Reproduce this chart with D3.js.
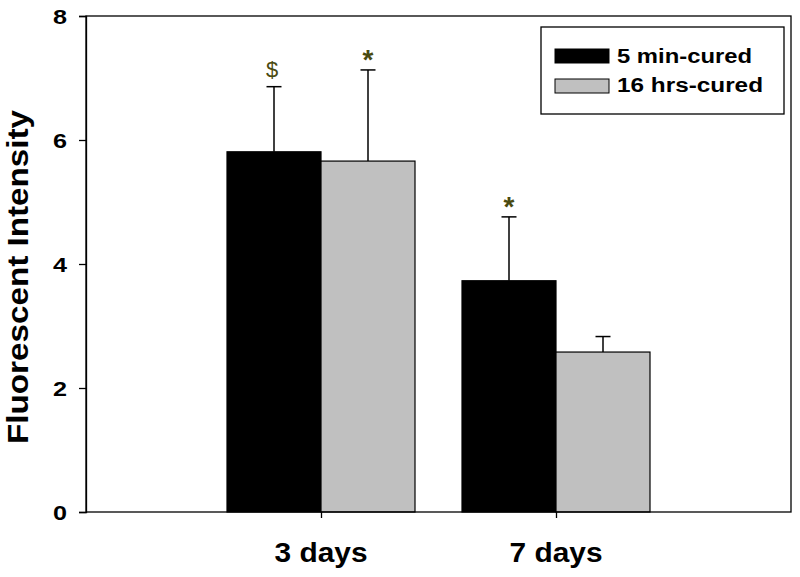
<!DOCTYPE html>
<html>
<head>
<meta charset="utf-8">
<script src="https://cdn.jsdelivr.net/npm/d3@7"></script>
<style>
html,body{margin:0;padding:0;background:#fff;}
text{font-family:Arial,"Liberation Sans",sans-serif;}
</style>
</head>
<body>
<svg id="chart" width="800" height="577"></svg>
<script>
const categories = ["3 days", "7 days"];
const seriesNames = ["5 min-cured", "16 hrs-cured"];
const means5 = [5.81, 3.73];
const errs5 = [1.05, 1.03];
const means16 = [5.66, 2.58];
const errs16 = [1.47, 0.25];
const marks5 = ["$", "*"];
const marks16 = ["*", ""];
const yTicks = [0, 2, 4, 6, 8];
const seriesColors = ["#000000", "#c0c0c0"];

const svg = d3.select("#chart");
const L = 86, R = 791, T = 16, B = 512;

const x = d3.scalePoint().domain(categories).range([L, R]).padding(1);
const y = d3.scaleLinear().domain([0, 8]).range([B, T]);
const barW = x.step() * 0.4;

const data = [];
categories.forEach((c, i) => {
  data.push({cat: c, s: 0, v: means5[i], e: errs5[i], m: marks5[i]});
  data.push({cat: c, s: 1, v: means16[i], e: errs16[i], m: marks16[i]});
});
const bx = d => x(d.cat) + (d.s === 0 ? -barW : 0);

// bars
svg.append("g").selectAll("rect").data(data).join("rect")
  .attr("x", bx).attr("width", barW)
  .attr("y", d => y(d.v)).attr("height", d => y(0) - y(d.v))
  .attr("fill", d => seriesColors[d.s]).attr("stroke", "#000").attr("stroke-width", 1.2);

// error bars (upward only)
const eg = svg.append("g").attr("stroke", "#000").attr("stroke-width", 1.5);
data.forEach(d => {
  const cx = bx(d) + barW / 2;
  eg.append("line").attr("x1", cx).attr("x2", cx).attr("y1", y(d.v)).attr("y2", y(d.v + d.e));
  eg.append("line").attr("x1", cx - 7.5).attr("x2", cx + 7.5).attr("y1", y(d.v + d.e)).attr("y2", y(d.v + d.e));
});

// significance marks
data.filter(d => d.m).forEach(d => {
  const cx = bx(d) + barW / 2;
  const cy = y(d.v + d.e) - 17;
  if (d.m === "$") {
    svg.append("text").attr("x", cx - 2).attr("y", cy + 7).attr("text-anchor", "middle")
      .attr("font-size", 22).attr("fill", "#4a4a10").text("$");
  } else {
    svg.append("text").attr("x", cx).attr("y", cy + 16).attr("text-anchor", "middle")
      .attr("font-size", 28).attr("font-weight", "bold").attr("fill", "#4a4a10").text("*");
  }
});

// frame
svg.append("rect").attr("x", L).attr("y", T).attr("width", R - L).attr("height", B - T)
  .attr("fill", "none").attr("stroke", "#000").attr("stroke-width", 1.3);

// y axis
const yAxis = d3.axisLeft(y).tickValues(yTicks).tickSize(7).tickFormat(d3.format("d"));
const ya = svg.append("g").attr("transform", `translate(${L},0)`).call(yAxis);
ya.attr("font-size", null).attr("font-family", null);
ya.select(".domain").attr("stroke-width", 1.3);
ya.selectAll(".tick line").attr("stroke-width", 1.3);
ya.selectAll(".tick text").attr("x", -19).attr("dy", "0.36em").attr("font-size", 20).attr("font-weight", "bold")
  .attr("fill", "#000").attr("textLength", 14).attr("lengthAdjust", "spacingAndGlyphs");

// x axis
const xAxis = d3.axisBottom(x).tickSize(6).tickFormat("");
const xa = svg.append("g").attr("transform", `translate(0,${B})`).call(xAxis);
xa.select(".domain").remove();
xa.selectAll(".tick line").attr("stroke-width", 1.3);
svg.append("g").selectAll("text").data(categories).join("text")
  .attr("x", d => x(d)).attr("y", 562).attr("text-anchor", "middle")
  .attr("font-size", 27).attr("font-weight", "bold")
  .attr("textLength", 93).attr("lengthAdjust", "spacingAndGlyphs")
  .text(d => d);

// y label
svg.append("text").attr("transform", "translate(28,277) rotate(-90)")
  .attr("text-anchor", "middle").attr("font-size", 30).attr("font-weight", "bold")
  .attr("textLength", 334).attr("lengthAdjust", "spacingAndGlyphs")
  .text("Fluorescent Intensity");

// legend
const lg = svg.append("g");
lg.append("rect").attr("x", 541).attr("y", 27).attr("width", 243).attr("height", 87)
  .attr("fill", "#fff").attr("stroke", "#000").attr("stroke-width", 1.3);
const legY = [49, 79];
const legBase = [63, 92];
const legLen = [135, 146];
seriesNames.forEach((s, i) => {
  lg.append("rect").attr("x", 555).attr("y", legY[i]).attr("width", 54).attr("height", 14)
    .attr("fill", seriesColors[i]).attr("stroke", "#000").attr("stroke-width", 1);
  lg.append("text").attr("x", 617).attr("y", legBase[i]).attr("font-size", 20).attr("font-weight", "bold")
    .attr("textLength", legLen[i]).attr("lengthAdjust", "spacingAndGlyphs").text(s);
});
</script>
</body>
</html>
